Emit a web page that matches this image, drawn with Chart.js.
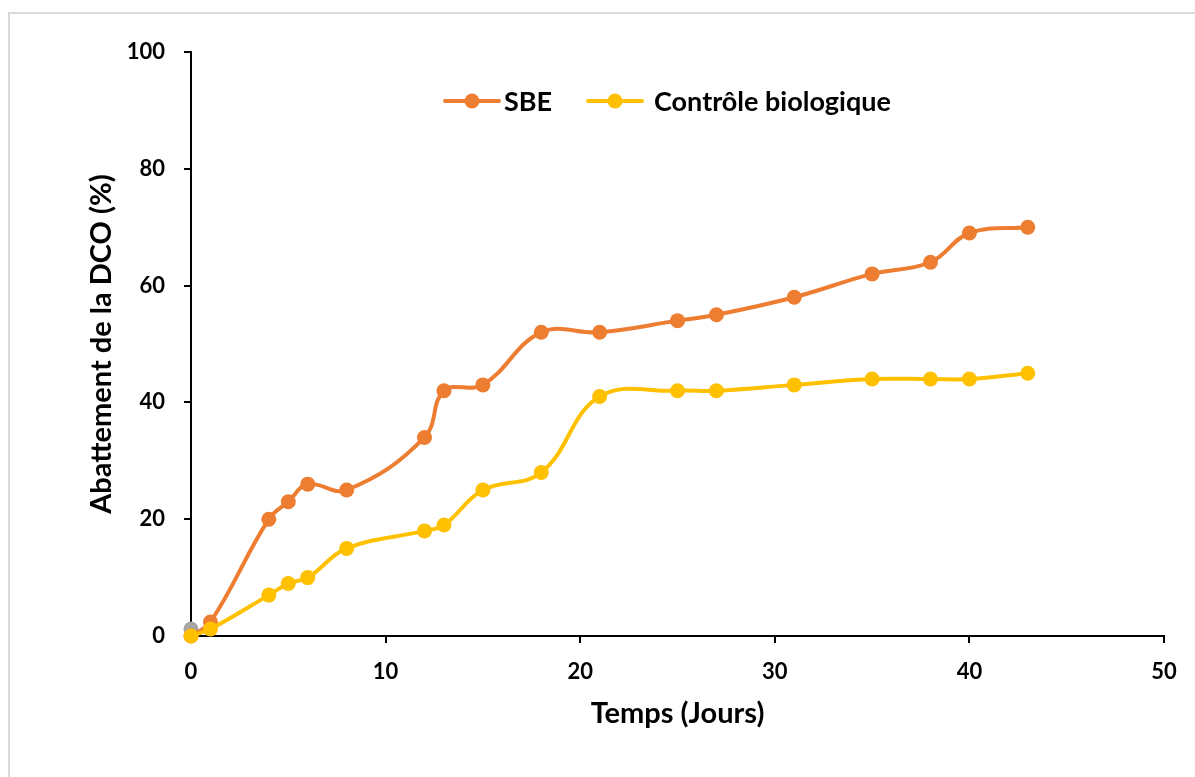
<!DOCTYPE html>
<html>
<head>
<meta charset="utf-8">
<script src="https://cdn.jsdelivr.net/npm/chart.js@4/dist/chart.umd.min.js"></script>
<style>
  html, body { margin: 0; padding: 0; background: #fff; }
  #frame { position: absolute; left: 8px; top: 12px; width: 1300px; height: 900px; border: 2px solid #d9d9d9; }
  #wrap { position: absolute; left: 0; top: 0; width: 1195px; height: 777px; }
</style>
</head>
<body>
<div id="frame"></div>
<div id="wrap"><canvas id="chart" width="1195" height="777"></canvas></div>
<script>
// Jours de mesure
const days = [0, 1, 4, 5, 6, 8, 12, 13, 15, 18, 21, 25, 27, 31, 35, 38, 40, 43];
// Abattement de la DCO (%)
const sbeValues = [0, 2.4, 20, 23, 26, 25, 34, 42, 43, 52, 52, 54, 55, 58, 62, 64, 69, 70];
const controleValues = [0, 1.2, 7, 9, 10, 15, 18, 19, 25, 28, 41, 42, 42, 43, 44, 44, 44, 45];
// point gris isolé à l'origine
const greyDays = [0];
const greyValues = [1.2];

const seriesLabels = ['SBE', 'Contrôle biologique'];
const yTicks = [0, 20, 40, 60, 80, 100];
const xTicks = [0, 10, 20, 30, 40, 50];

const toPoints = (xs, ys) => xs.map((x, i) => ({ x: x, y: ys[i] }));

const ORANGE = '#ED7D31';
const YELLOW = '#FFC000';
const GREY = '#A5A5A5';
const FONT = 'Lato';

// Légende dessinée à l'intérieur de la zone du graphique
const innerLegend = {
  id: 'innerLegend',
  afterDraw(chart) {
    const ctx = chart.ctx;
    const items = [
      { label: seriesLabels[0], color: ORANGE, x0: 445, gap: 59 },
      { label: seriesLabels[1], color: YELLOW, x0: 588, gap: 66 }
    ];
    const y = 101;
    ctx.save();
    ctx.font = 'bold 27px ' + FONT;
    ctx.textBaseline = 'middle';
    items.forEach(it => {
      ctx.strokeStyle = it.color;
      ctx.lineWidth = 4;
      ctx.lineCap = 'round';
      ctx.beginPath();
      ctx.moveTo(it.x0, y);
      ctx.lineTo(it.x0 + 54, y);
      ctx.stroke();
      ctx.fillStyle = it.color;
      ctx.beginPath();
      ctx.arc(it.x0 + 27, y, 7.5, 0, Math.PI * 2);
      ctx.fill();
      ctx.fillStyle = '#000';
      ctx.fillText(it.label, it.x0 + it.gap, y + 1);
    });
    ctx.restore();
  }
};

const lineStyle = (color) => ({
  borderColor: color,
  backgroundColor: color,
  pointBackgroundColor: color,
  pointBorderColor: color,
  pointBorderWidth: 0,
  pointRadius: 7.5,
  borderWidth: 4,
  tension: 0.4,
  clip: false
});

new Chart(document.getElementById('chart'), {
  type: 'line',
  data: {
    datasets: [
      { label: seriesLabels[0], data: toPoints(days, sbeValues), order: 2, ...lineStyle(ORANGE) },
      { label: seriesLabels[1], data: toPoints(days, controleValues), order: 1, ...lineStyle(YELLOW) },
      { label: '', data: toPoints(greyDays, greyValues), order: 3, ...lineStyle(GREY) }
    ]
  },
  options: {
    responsive: false,
    animation: false,
    layout: { padding: { top: 52, right: 31, left: 0, bottom: 0 } },
    plugins: {
      legend: { display: false },
      tooltip: { enabled: false }
    },
    scales: {
      x: {
        type: 'linear',
        min: 0,
        max: 50,
        afterBuildTicks: (scale) => { scale.ticks = xTicks.map(v => ({ value: v })); },
        afterFit: (scale) => { scale.height = 141; },
        border: { color: '#000', width: 2 },
        grid: { drawOnChartArea: false, color: '#000', lineWidth: 2, tickLength: 7 },
        ticks: { color: '#000', padding: 16, font: { family: FONT, size: 22, weight: 'bold' } },
        title: {
          display: true,
          text: 'Temps (Jours)',
          color: '#000',
          padding: { top: 0, bottom: 46 },
          font: { family: FONT, size: 29, weight: 'bold' }
        }
      },
      y: {
        min: 0,
        max: 100,
        afterBuildTicks: (scale) => { scale.ticks = yTicks.map(v => ({ value: v })); },
        afterFit: (scale) => { scale.width = 191; },
        border: { color: '#000', width: 2 },
        grid: { drawOnChartArea: false, color: '#000', lineWidth: 2, tickLength: 7 },
        ticks: { color: '#000', padding: 19, font: { family: FONT, size: 22, weight: 'bold' } },
        title: {
          display: true,
          text: 'Abattement de la DCO (%)',
          color: '#000',
          padding: { top: 84, bottom: 0 },
          font: { family: FONT, size: 29, weight: 'bold' }
        }
      }
    }
  },
  plugins: [innerLegend]
});
</script>
</body>
</html>
